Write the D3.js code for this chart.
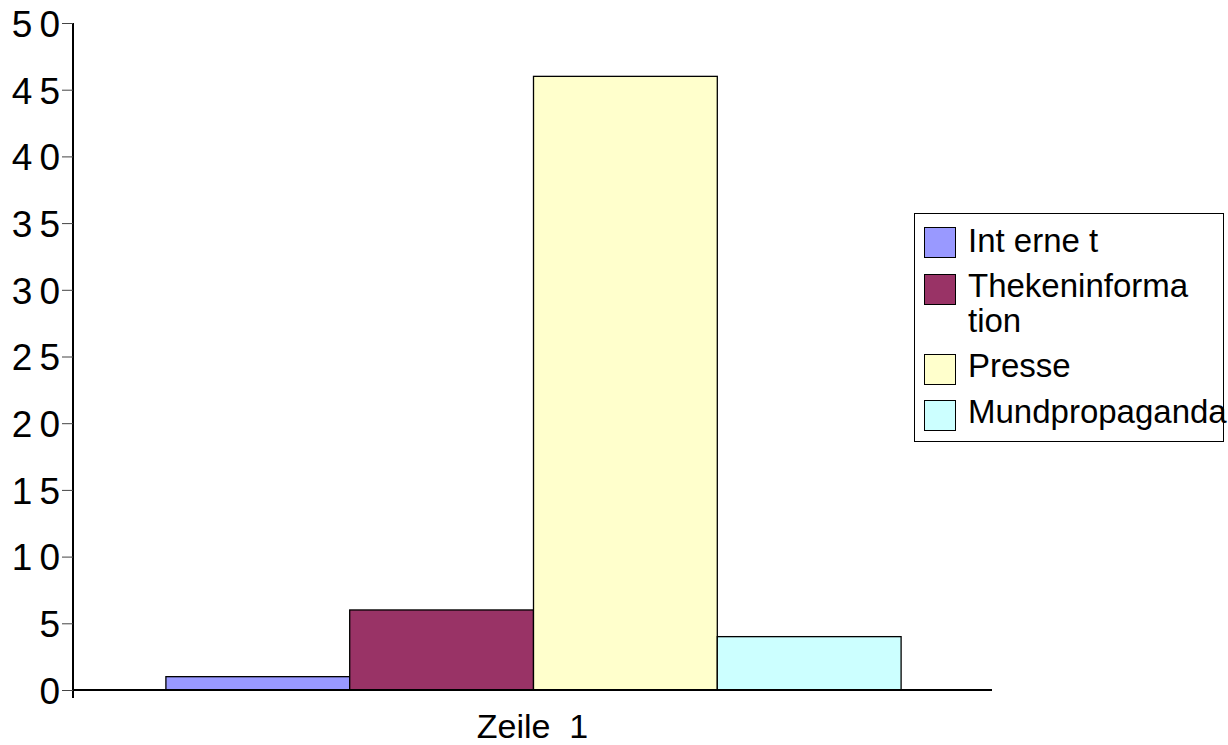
<!DOCTYPE html>
<html><head><meta charset="utf-8">
<script src="https://cdn.jsdelivr.net/npm/d3@7"></script>
<style>body{margin:0;background:#fff;} svg{display:block;font-family:"Liberation Sans",Arial,sans-serif;}</style>
</head><body>
<svg id="c" width="1228" height="745"></svg>
<script>
const categories = ["Zeile 1"];
const seriesNames = ["Int erne t", "Thekeninforma\ntion", "Presse", "Mundpropaganda"];
const seriesValues = [1, 6, 46, 4];
const seriesColors = ["#9999ff", "#993366", "#ffffcc", "#ccffff"];
const yTicks = [0, 5, 10, 15, 20, 25, 30, 35, 40, 45, 50];

(function () {
const svg = d3.select("#c");
const mLeft = 73, mRight = 992, mTop = 23, mBottom = 690;

const y = d3.scaleLinear().domain([0, 50]).range([mBottom, mTop]);
const x0 = d3.scaleBand().domain(categories).range([mLeft, mRight]).paddingInner(0).paddingOuter(0.125);
const x1 = d3.scaleBand().domain(d3.range(seriesValues.length)).range([0, x0.bandwidth()]);

// bars
const g = svg.append("g");
g.selectAll("rect.bar").data(seriesValues).join("rect")
  .attr("class", "bar")
  .attr("x", (d, i) => x0(categories[0]) + x1(i) + 1)
  .attr("y", d => y(d))
  .attr("width", x1.bandwidth())
  .attr("height", d => y(0) - y(d))
  .attr("fill", (d, i) => seriesColors[i])
  .attr("stroke", "#000").attr("stroke-width", 1.3);

// y axis
const yAxis = d3.axisLeft(y).tickValues(yTicks).tickSize(11).tickPadding(2).tickFormat(d => String(d));
const ya = svg.append("g").attr("transform", `translate(${mLeft},0)`).call(yAxis);
ya.select(".domain").attr("stroke", "#000").attr("stroke-width", 2).attr("d", `M0,${mTop}V${mBottom + 8}`);
ya.selectAll(".tick line").attr("stroke", "#444").attr("stroke-width", 1);
ya.selectAll(".tick text").attr("font-size", 37).attr("fill", "#000")
  .attr("font-family", "Liberation Sans, Arial, sans-serif")
  .style("letter-spacing", "7px").attr("dx", "7px").attr("dy", "0.36em");

// x axis
svg.append("line").attr("x1", mLeft).attr("x2", mRight).attr("y1", mBottom).attr("y2", mBottom)
  .attr("stroke", "#000").attr("stroke-width", 2);
svg.append("text").attr("x", x0(categories[0]) + x0.bandwidth() / 2).attr("y", 738)
  .attr("text-anchor", "middle").attr("font-size", 34).attr("fill", "#000")
  .style("white-space", "pre").text("Zeile  1");

// legend
const lg = svg.append("g");
lg.append("rect").attr("x", 914.5).attr("y", 213.5).attr("width", 309).attr("height", 228)
  .attr("fill", "#fff").attr("stroke", "#000").attr("stroke-width", 1);
const swY = [227, 274, 354, 400];
const txY = [[252], [297, 332], [377], [423]];
seriesNames.forEach((name, i) => {
  lg.append("rect").attr("x", 924.5).attr("y", swY[i] + 0.5).attr("width", 31).attr("height", 30)
    .attr("fill", seriesColors[i]).attr("stroke", "#000").attr("stroke-width", 1);
  name.split("\n").forEach((line, j) => {
    lg.append("text").attr("x", 968).attr("y", txY[i][j]).attr("font-size", 33).attr("fill", "#000")
      .style("white-space", "pre").text(line);
  });
});
})();
</script>
</body></html>
